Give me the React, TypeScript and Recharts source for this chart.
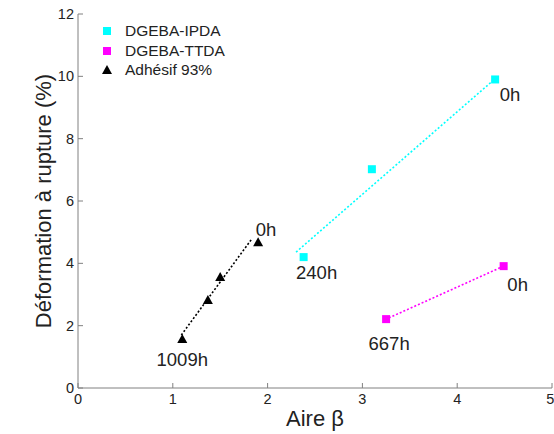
import {
  ScatterChart,
  Scatter,
  XAxis,
  YAxis,
  Legend,
  LabelList,
} from "recharts";

// DGEBA-IPDA measured points
const ipdaAire = [4.4, 3.1, 2.38];
const ipdaDef = [9.9, 7.02, 4.2];
const ipdaHours = ["0h", "", "240h"];
// linear fit drawn for IPDA
const ipdaFitAire = [2.3, 4.38];
const ipdaFitDef = [4.36, 9.87];

// DGEBA-TTDA
const ttdaAire = [4.49, 3.25];
const ttdaDef = [3.91, 2.21];
const ttdaHours = ["0h", "667h"];

// Adhésif 93%
const adhAire = [1.9, 1.5, 1.37, 1.1];
const adhDef = [4.68, 3.56, 2.82, 1.57];
const adhHours = ["0h", "", "", "1009h"];
const adhFitAire = [1.09, 1.83];
const adhFitDef = [1.7, 4.77];

const xTicks = [0, 1, 2, 3, 4, 5];
const yTicks = [0, 2, 4, 6, 8, 10, 12];

const zip = (xs: number[], ys: number[], labels?: string[]) =>
  xs.map((x, i) => ({ x, y: ys[i], label: labels ? labels[i] : "" }));

const ipdaData = zip(ipdaAire, ipdaDef, ipdaHours);
const ipdaFit = zip(ipdaFitAire, ipdaFitDef);
const ttdaData = zip(ttdaAire, ttdaDef, ttdaHours);
const adhData = zip(adhAire, adhDef, adhHours);
const adhFit = zip(adhFitAire, adhFitDef);

const FONT = "'Liberation Sans', Arial, sans-serif";
const AXIS_GREY = "#808080";
const CYAN = "#00ffff";
const MAGENTA = "#ff00ff";

// label offsets (dx, dy) relative to the point, per series
const labelShift: Record<string, [number, number][]> = {
  ipda: [[15, 15], [0, 0], [13, 15]],
  ttda: [[14, 18], [3, 24]],
  adh: [[8, -13], [0, 0], [0, 0], [0, 20]],
};

const square = (color: string) => (props: any) => {
  const { cx, cy } = props;
  return <rect x={cx - 4} y={cy - 4} width={8} height={8} fill={color} />;
};

const triangle = (props: any) => {
  const { cx, cy } = props;
  return (
    <polygon
      points={`${cx},${cy - 5} ${cx - 5},${cy + 4} ${cx + 5},${cy + 4}`}
      fill="#000"
    />
  );
};

const noShape = () => <g />;

const hourLabel = (series: string) => (props: any) => {
  const { x, y, width, height, value, index } = props;
  if (!value) return null;
  const [dx, dy] = labelShift[series][index] || [0, 0];
  const cx = x + (width || 0) / 2;
  const cy = y + (height || 0) / 2;
  return (
    <text
      x={cx + dx}
      y={cy + dy}
      textAnchor="middle"
      dominantBaseline="central"
      fontSize={18.5}
      fontFamily={FONT}
      fill="#222"
    >
      {value}
    </text>
  );
};

const legendRows = [
  { name: "DGEBA-IPDA", kind: "square", color: CYAN },
  { name: "DGEBA-TTDA", kind: "square", color: MAGENTA },
  { name: "Adhésif 93%", kind: "triangle", color: "#000" },
];

const LegendBox = () => (
  <div style={{ fontFamily: FONT, fontSize: 15.5, color: "#222" }}>
    {legendRows.map((r) => (
      <div
        key={r.name}
        style={{ display: "flex", alignItems: "center", height: 19.4 }}
      >
        <svg width={20} height={12}>
          {r.kind === "square" ? (
            <rect x={6} y={2} width={8} height={8} fill={r.color} />
          ) : (
            <polygon points="10,1 5,10 15,10" fill={r.color} />
          )}
        </svg>
        <span style={{ marginLeft: 8.5 }}>{r.name}</span>
      </div>
    ))}
  </div>
);

const tickStyle = { fontSize: 14.5, fontFamily: FONT, fill: "#222" };

export default function App() {
  return (
    <div style={{ position: "absolute", left: 0, top: 0, background: "#fff" }}>
      <ScatterChart
        width={554}
        height={434}
        margin={{ top: 14, right: 2, bottom: 16, left: 38 }}
      >
        <XAxis
          xAxisId="main"
          dataKey="x"
          type="number"
          domain={[0, 5]}
          ticks={xTicks}
          allowDataOverflow
          height={30}
          stroke={AXIS_GREY}
          tickSize={-5}
          tickMargin={11}
          tick={tickStyle}
          label={{
            value: "Aire β",
            position: "bottom",
            offset: -8,
            style: { fontSize: 22, fontFamily: FONT, fill: "#222" },
          }}
        />
        <XAxis
          xAxisId="top"
          orientation="top"
          type="number"
          domain={[0, 5]}
          ticks={xTicks}
          allowDataOverflow
          height={0}
          stroke={AXIS_GREY}
          tickSize={-5}
          tickFormatter={() => ""}
        />
        <YAxis
          yAxisId="main"
          dataKey="y"
          type="number"
          domain={[0, 12]}
          ticks={yTicks}
          allowDataOverflow
          width={40}
          stroke={AXIS_GREY}
          tickSize={-5}
          tickMargin={9}
          tick={tickStyle}
          label={{
            value: "Déformation à rupture (%)",
            angle: -90,
            position: "insideLeft",
            offset: 5,
            style: {
              fontSize: 22,
              fontFamily: FONT,
              fill: "#222",
              textAnchor: "middle",
            },
          }}
        />
        <YAxis
          yAxisId="right"
          orientation="right"
          type="number"
          domain={[0, 12]}
          ticks={yTicks}
          allowDataOverflow
          width={0}
          stroke={AXIS_GREY}
          tickSize={-5}
          tickFormatter={() => ""}
        />
        <Legend
          layout="vertical"
          align="center"
          verticalAlign="middle"
          wrapperStyle={{ left: 96.5, top: 21.6, width: "auto" }}
          content={<LegendBox />}
        />
        <Scatter
          name="fit IPDA"
          data={ipdaFit}
          xAxisId="main"
          yAxisId="main"
          shape={noShape}
          legendType="none"
          line={{ stroke: CYAN, strokeWidth: 1.6, strokeDasharray: "2 2" }}
          isAnimationActive={false}
        />
        <Scatter
          name="fit Adhésif"
          data={adhFit}
          xAxisId="main"
          yAxisId="main"
          shape={noShape}
          legendType="none"
          line={{ stroke: "#000", strokeWidth: 1.6, strokeDasharray: "2 2" }}
          isAnimationActive={false}
        />
        <Scatter
          name="DGEBA-TTDA"
          data={ttdaData}
          xAxisId="main"
          yAxisId="main"
          fill={MAGENTA}
          shape={square(MAGENTA)}
          line={{ stroke: MAGENTA, strokeWidth: 1.6, strokeDasharray: "2 2" }}
          isAnimationActive={false}
        >
          <LabelList dataKey="label" content={hourLabel("ttda")} />
        </Scatter>
        <Scatter
          name="DGEBA-IPDA"
          data={ipdaData}
          xAxisId="main"
          yAxisId="main"
          fill={CYAN}
          shape={square(CYAN)}
          isAnimationActive={false}
        >
          <LabelList dataKey="label" content={hourLabel("ipda")} />
        </Scatter>
        <Scatter
          name="Adhésif 93%"
          data={adhData}
          xAxisId="main"
          yAxisId="main"
          fill="#000"
          shape={triangle}
          isAnimationActive={false}
        >
          <LabelList dataKey="label" content={hourLabel("adh")} />
        </Scatter>
      </ScatterChart>
    </div>
  );
}
